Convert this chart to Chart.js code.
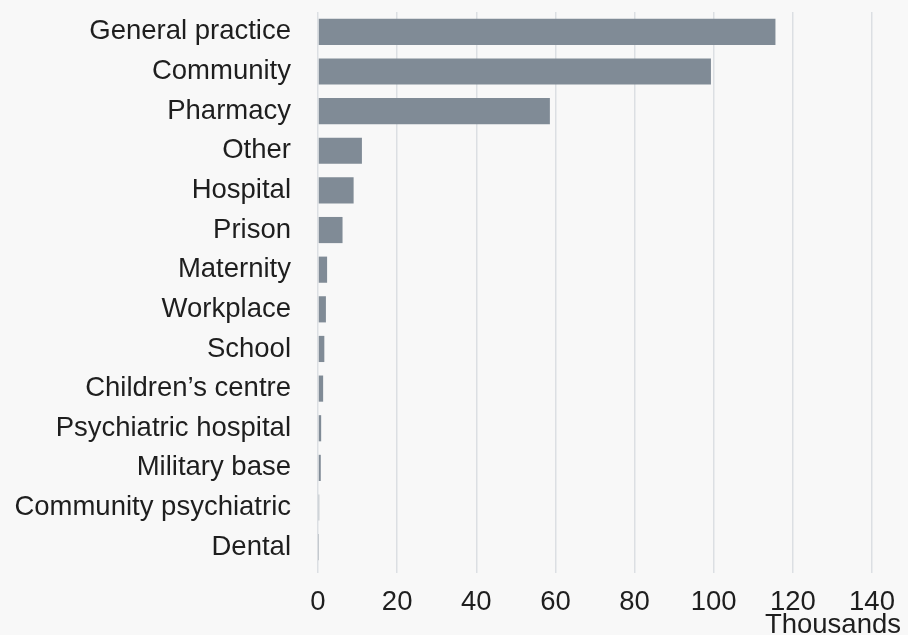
<!DOCTYPE html>
<html>
<head>
<meta charset="utf-8">
<script src="https://cdn.jsdelivr.net/npm/chart.js@4/dist/chart.umd.min.js"></script>
<style>
  html, body { margin: 0; padding: 0; background: #f8f8f8; }
  #wrap { width: 908px; height: 635px; }
</style>
</head>
<body>
<div id="wrap"><canvas id="chart"></canvas></div>
<script>
// Settings by count, in thousands
const settings = ['General practice', 'Community', 'Pharmacy', 'Other', 'Hospital', 'Prison',
    'Maternity', 'Workplace', 'School', 'Children\u2019s centre', 'Psychiatric hospital',
    'Military base', 'Community psychiatric', 'Dental'];
const counts = [115.6, 99.3, 58.6, 11.1, 9.0, 6.2, 2.3, 2.0, 1.6, 1.3, 0.8, 0.7, 0.3, 0.1];
const xTicks = [0, 20, 40, 60, 80, 100, 120, 140];
const unitLabel = 'Thousands';

const FONT = "'Liberation Sans', Arial, sans-serif";
const SIZE = 27.5;
const TEXT = '#1e1e1e';

// unit label sits under the right end of the x axis
const unitPlugin = {
    id: 'unitLabel',
    afterDraw(chart) {
        const ctx = chart.ctx;
        ctx.save();
        ctx.font = `${SIZE}px ${FONT}`;
        ctx.fillStyle = TEXT;
        ctx.textAlign = 'right';
        ctx.textBaseline = 'alphabetic';
        ctx.fillText(unitLabel, 901, 633);
        ctx.restore();
    }
};

new Chart(document.getElementById('chart'), {
    type: 'bar',
    data: {
        labels: settings,
        datasets: [{
            data: counts,
            backgroundColor: '#808b96',
            borderWidth: 0,
            barPercentage: 0.66,
            categoryPercentage: 1.0,
        }]
    },
    options: {
        indexAxis: 'y',
        responsive: true,
        maintainAspectRatio: false,
        animation: false,
        layout: { padding: { top: 12, right: 36, bottom: 0, left: 0 } },
        scales: {
            x: {
                min: 0, max: 140,
                afterBuildTicks: s => { s.ticks = xTicks.map(v => ({ value: v })); },
                afterFit: s => { s.height = 68; s.paddingRight = 0; },
                grid: { color: '#dcdfe3', lineWidth: 1.5, tickLength: 6, drawTicks: true },
                border: { display: false },
                ticks: { color: TEXT, font: { family: FONT, size: SIZE }, padding: 13, maxRotation: 0 }
            },
            y: {
                afterFit: s => { s.width = 318; s.paddingTop = 0; s.paddingBottom = 0; },
                grid: { display: false, drawTicks: false },
                border: { display: false },
                ticks: { color: TEXT, font: { family: FONT, size: SIZE }, padding: 27, autoSkip: false }
            }
        },
        plugins: {
            legend: { display: false },
            tooltip: { enabled: false }
        }
    },
    plugins: [unitPlugin]
});
</script>
</body>
</html>
